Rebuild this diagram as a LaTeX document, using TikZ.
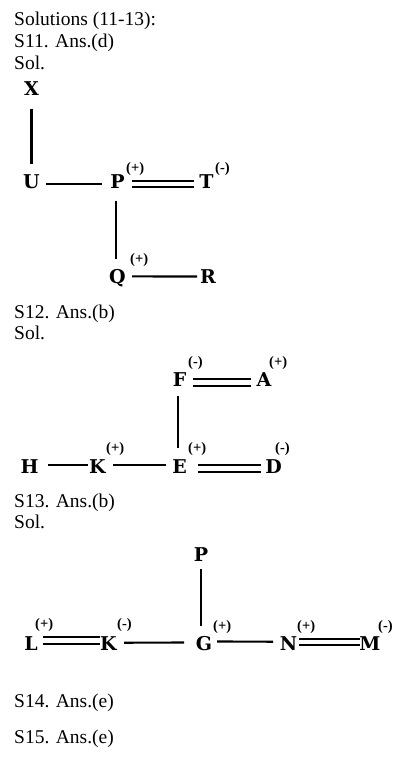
\documentclass[tikz,border=0pt]{standalone}
\usepackage{fontspec}
\setmainfont{Liberation Serif}
\newfontfamily\lblfont{DejaVu Serif}
\begin{document}
\begin{tikzpicture}[x=1pt,y=-1pt,
  txt/.style={font=\fontsize{19.5}{22}\selectfont, inner sep=0pt, anchor=base west},
  lbl/.style={font=\lblfont\fontsize{19}{22}\selectfont\bfseries, inner sep=0pt, text depth=0pt, anchor=base},
  sup/.style={font=\fontsize{14.5}{16}\selectfont\bfseries, inner sep=0pt, anchor=base west},
  ln/.style={line width=2.2pt},
  dbl/.style={line width=2pt, double, double distance=4.5pt}]
\useasboundingbox[fill=white] (0,0) rectangle (415,770);

% texts
\node[txt] (t1) at (14,26) {Solutions (11-13):};
\node[txt] (t2) at (14,48) {S11. Ans.(d)};
\node[txt] (t3) at (14,70) {Sol.};
\node[txt] (t4) at (14,318) {S12. Ans.(b)};
\node[txt] (t5) at (14,339) {Sol.};
\node[txt] (t6) at (14,507) {S13. Ans.(b)};
\node[txt] (t7) at (14,528) {Sol.};
\node[txt] (t8) at (14,707) {S14. Ans.(e)};
\node[txt] (t9) at (14,743) {S15. Ans.(e)};

% diagram 1
\node[lbl] (X) at (31.5,96) {X};
\node[lbl] (U) at (31.5,189) {U};
\node[lbl] (P) at (117.5,189) {P};
\node[lbl] (T) at (206.5,189) {T};
\node[lbl] (Q) at (117.5,283) {Q};
\node[lbl] (R) at (208,283) {R};
\node[sup] (Ps) at (126,172.6) {(+)};
\node[sup] (Ts) at (215,172.6) {(-)};
\node[sup] (Qs) at (130,263.6) {(+)};
\draw[ln, shorten <=19.6pt, shorten >=18.4pt] (X.center) -- (X.center |- U.center);
\draw[ln, shorten <=14.5pt, shorten >=15.5pt] ([yshift=-1.6pt]U.center) -- ([yshift=-1.6pt]P.center);
\draw[dbl, shorten <=14.5pt, shorten >=12.5pt] ([yshift=-2.1pt]P.center) -- ([yshift=-2.1pt]T.center);
\draw[ln, shorten <=18.6pt, shorten >=17.4pt] ([xshift=-1.5pt]P.center) -- ([xshift=-1.5pt]P.center |- Q.center);
\draw[ln, shorten <=14.5pt, shorten >=11pt] ([yshift=-0.4pt]Q.center) -- ([yshift=-0.4pt]R.center);

% diagram 2
\node[lbl] (F) at (179.5,386) {F};
\node[lbl] (A) at (264,386) {A};
\node[lbl] (H) at (29.5,473) {H};
\node[lbl] (K) at (97.5,473) {K};
\node[lbl] (E) at (179.5,473) {E};
\node[lbl] (D) at (273.5,473) {D};
\node[sup] (Fs) at (188,366.6) {(-)};
\node[sup] (As) at (269,366.6) {(+)};
\node[sup] (Ks) at (106,452.6) {(+)};
\node[sup] (Es) at (188,452.6) {(+)};
\node[sup] (Ds) at (275,452.6) {(-)};
\draw[dbl, shorten <=13.5pt, shorten >=13pt] ([yshift=-3.3pt]F.center) -- ([yshift=-3.3pt]A.center);
\draw[ln, shorten <=16.6pt, shorten >=18.4pt] ([xshift=-1.5pt]F.center) -- ([xshift=-1.5pt]F.center |- E.center);
\draw[ln, shorten <=18.5pt, shorten >=9.5pt] ([yshift=1.4pt]H.center) -- ([yshift=1.4pt]K.center);
\draw[ln, shorten <=15.5pt, shorten >=13.5pt] ([yshift=1.4pt]K.center) -- ([yshift=1.4pt]E.center);
\draw[dbl, shorten <=18.5pt, shorten >=12.5pt] ([yshift=-2.6pt]E.center) -- ([yshift=-2.6pt]D.center);

% diagram 3
\node[lbl] (P3) at (201,561) {P};
\node[lbl] (L3) at (31,650) {L};
\node[lbl] (K3) at (108.5,650) {K};
\node[lbl] (G3) at (204,650) {G};
\node[lbl] (N3) at (288.5,650) {N};
\node[lbl] (M3) at (370,650) {M};
\node[sup] (L3s) at (35,628) {(+)};
\node[sup] (K3s) at (117,628) {(-)};
\node[sup] (G3s) at (213,630) {(+)};
\node[sup] (N3s) at (297,630) {(+)};
\node[sup] (M3s) at (378,630) {(-)};
\draw[ln, shorten <=14.6pt, shorten >=17.4pt] (P3.center) -- (P3.center |- G3.center);
\draw[dbl, shorten <=12pt, shorten >=8.5pt] ([yshift=2.4pt]L3.center) -- ([yshift=2.4pt]K3.center);
\draw[ln, shorten <=15.5pt, shorten >=20pt] ([yshift=0.4pt]K3.center) -- ([yshift=0.4pt]G3.center);
\draw[ln, shorten <=13pt, shorten >=15.5pt] ([yshift=1.4pt]G3.center) -- ([yshift=1.4pt]N3.center);
\draw[dbl, shorten <=10.5pt, shorten >=10pt] ([yshift=0.9pt]N3.center) -- ([yshift=0.9pt]M3.center);
\end{tikzpicture}
\end{document}
